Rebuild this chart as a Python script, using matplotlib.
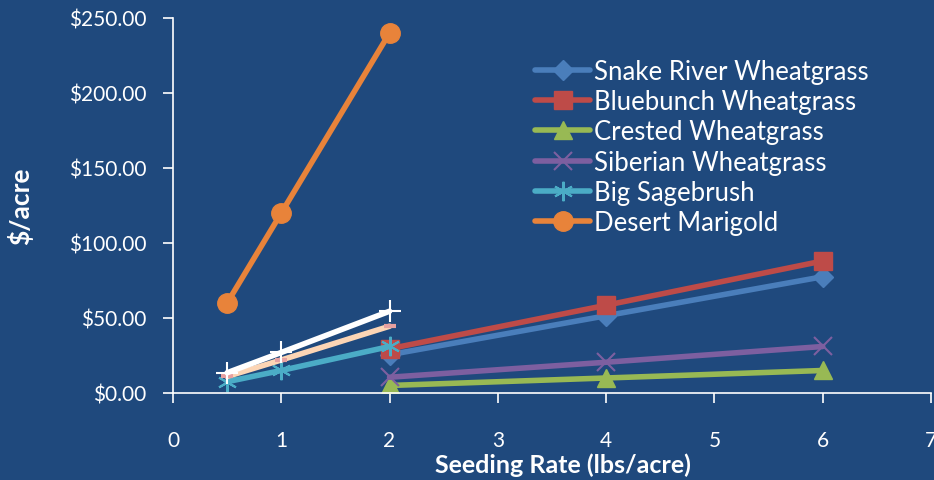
import matplotlib
matplotlib.use("Agg")
import matplotlib.pyplot as plt
from matplotlib.ticker import FuncFormatter

# Seeding rate (lbs/acre) and cost ($/acre) for each species
rate_grass = [2, 4, 6]
snake_river = [25.5, 51.5, 77.5]
bluebunch = [29.5, 58.5, 88]
crested = [5, 10, 15]
siberian = [10.5, 20.5, 31]

rate_forb = [0.5, 1, 2]
big_sagebrush = [7.5, 15, 31]
desert_marigold = [60, 120, 240]
extra_white = [13.5, 27, 54.5]
extra_peach = [11, 22, 44.5]

series_names = ["Snake River Wheatgrass", "Bluebunch Wheatgrass", "Crested Wheatgrass",
                "Siberian Wheatgrass", "Big Sagebrush", "Desert Marigold"]

x_ticks = [0, 1, 2, 3, 4, 5, 6, 7]
y_ticks = [0, 50, 100, 150, 200, 250]

BG = "#1F497D"
FONT = ["Lato", "DejaVu Sans"]
plt.rcParams["font.family"] = FONT

fig = plt.figure(figsize=(9.34, 4.81), dpi=100, facecolor=BG)
ax = fig.add_axes([0.1852, 0.1809, 0.8116, 0.7796], facecolor=BG)

lw = 4.0
ax.plot(rate_grass, snake_river, color="#4A7EBB", lw=lw, marker="D", ms=10,
        label=series_names[0], solid_capstyle="round")
ax.plot(rate_grass, bluebunch, color="#BE4B48", lw=lw, marker="s", ms=13,
        label=series_names[1], solid_capstyle="round")
ax.plot(rate_grass, crested, color="#98B954", lw=lw, marker="^", ms=13,
        label=series_names[2], solid_capstyle="round")
ax.plot(rate_grass, siberian, color="#7D5FA0", lw=lw, marker="x", ms=13, mew=1.5,
        label=series_names[3], solid_capstyle="round")
ax.plot(rate_forb, big_sagebrush, color="#4BACC6", lw=lw, marker=(6, 2, 0), ms=14, mew=1.5,
        label=series_names[4], solid_capstyle="round")
ax.plot(rate_forb, desert_marigold, color="#E8833A", lw=lw, marker="o", ms=14,
        label=series_names[5], solid_capstyle="round")
ax.plot(rate_forb, extra_peach, color="#FCD5B5", lw=lw, marker="_", ms=9, mew=3,
        mec="#E6A0A0", solid_capstyle="round")
ax.plot(rate_forb, extra_white, color="white", lw=lw, marker="+", ms=16, mew=1.5,
        solid_capstyle="round")

ax.set_xlim(0, 7)
ax.set_ylim(0, 250)
ax.set_xticks(x_ticks)
ax.set_yticks(y_ticks)
ax.yaxis.set_major_formatter(FuncFormatter(lambda v, p: f"${v:.2f}"))

for side in ("top", "right"):
    ax.spines[side].set_visible(False)
for side in ("left", "bottom"):
    ax.spines[side].set_color("white")
    ax.spines[side].set_linewidth(1.2)
ax.spines["bottom"].set_position(("data", 0))

ax.tick_params(axis="both", colors="white", labelcolor="white", labelsize=15,
               direction="out", length=7, width=1.2)
ax.tick_params(axis="x", pad=20)
ax.tick_params(axis="y", pad=12)

ax.set_xlabel("Seeding Rate (lbs/acre)", color="white", fontsize=18, fontweight="bold")
ax.xaxis.set_label_coords(0.5145, -0.158)
ax.set_ylabel("$/acre", color="white", fontsize=19, fontweight="bold")
ax.yaxis.set_label_coords(-0.184, 0.5)

leg = ax.legend(loc="upper left", bbox_to_anchor=(0.5728, 0.875),
                bbox_transform=fig.transFigure, frameon=False,
                fontsize=18.5, labelcolor="white", handlelength=2.15, handletextpad=0.16,
                labelspacing=0.2, borderaxespad=0, borderpad=0)

fig.savefig("out.png", dpi=100, facecolor=BG)
